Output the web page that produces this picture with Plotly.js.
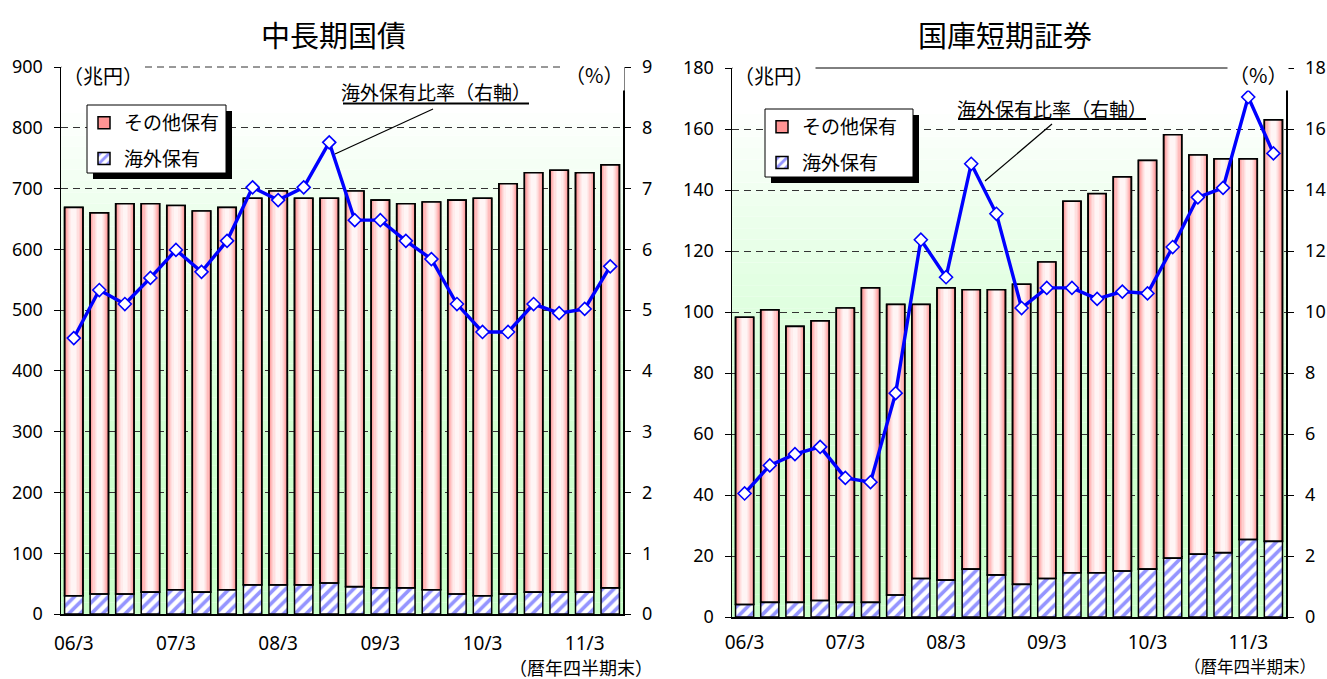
<!DOCTYPE html>
<html>
<head>
<meta charset="utf-8">
<script src="https://cdn.plot.ly/plotly-3.0.1.min.js"></script>
<style>html,body{margin:0;padding:0;background:#fff;}#chart{width:1327px;height:679px;}</style>
</head>
<body>
<div id="chart"></div>
<script>
// ---- data ----
const quarters = ["06/3","06/6","06/9","06/12","07/3","07/6","07/9","07/12","08/3","08/6","08/9","08/12",
                  "09/3","09/6","09/9","09/12","10/3","10/6","10/9","10/12","11/3","11/6"];
const yearTicks = ["06/3","07/3","08/3","09/3","10/3","11/3"];

// 中長期国債 (兆円)
const jgbOther   = [639,627,642,639,632,627,629,636,648,636,633,651,638,632,638,648,654,675,690,694,690,696];
const jgbForeign = [30,33,33,36,40,36,40,48,48,48,51,45,43,43,40,33,30,33,36,36,36,43];
const jgbRatio   = [4.54,5.33,5.10,5.53,5.99,5.63,6.14,7.02,6.81,7.02,7.76,6.48,6.48,6.14,5.84,5.10,4.64,4.64,5.10,4.95,5.02,5.72];

// 国庫短期証券 (兆円)
const tbOther   = [94.2,95.9,90.5,91.7,96.5,103.1,95.3,89.9,95.8,91.6,93.5,98.4,103.8,121.8,124.3,129.2,134.0,138.8,130.9,129.1,124.8,138.2];
const tbForeign = [4.1,4.8,4.8,5.4,4.8,4.8,7.2,12.6,12.1,15.7,13.8,10.7,12.6,14.5,14.5,15.1,15.7,19.3,20.6,21.1,25.4,24.8];
const tbRatio   = [4.05,4.97,5.34,5.58,4.56,4.42,7.34,12.37,11.14,14.86,13.22,10.13,10.79,10.79,10.43,10.67,10.61,12.13,13.76,14.07,17.05,15.20];

const nameOther = "その他保有";
const nameForeign = "海外保有";
const nameRatio = "海外保有比率";

// ---- helpers ----
const W = 1327, H = 679;
const px = x => x / W;
const py = y => 1 - y / H;
const CJK = "Noto Sans CJK JP, Noto Sans, sans-serif";
const NUM = "Noto Sans, Noto Sans CJK JP, sans-serif";
const BARW = 0.72;

function chartTraces(xa, ya, ya2, other, foreign, ratio, legendId) {
  const t = [];
  t.push({type:'bar', x:quarters, y:other, base:foreign, xaxis:xa, yaxis:ya, width:BARW,
          name:nameOther, legend:legendId, legendgroup:legendId+'o',
          marker:{color:'#ff9494', line:{color:'#000', width:1.5}}, hoverinfo:'skip'});
  const gw = [0.64,0.55,0.46,0.37,0.28,0.18];
  const gc = ['#ffa8a8','#ffbcbc','#ffcfcf','#ffdfdf','#ffebeb','#fff5f5'];
  gw.forEach((w,i) => t.push({type:'bar', x:quarters, y:other, base:foreign, xaxis:xa, yaxis:ya, width:w,
          showlegend:false, marker:{color:gc[i], line:{width:0}}, hoverinfo:'skip'}));
  t.push({type:'bar', x:quarters, y:foreign, xaxis:xa, yaxis:ya, width:BARW,
          name:nameForeign, legend:legendId, legendgroup:legendId+'f',
          marker:{color:'#ffffff', pattern:{shape:'/', fgcolor:'#9494ff', bgcolor:'#ffffff', size:8, solidity:0.45},
                  line:{color:'#000', width:1.5}}, hoverinfo:'skip'});
  t.push({type:'bar', x:quarters, y:other, base:foreign, xaxis:xa, yaxis:ya, width:BARW,
          showlegend:false, marker:{color:'rgba(0,0,0,0)', line:{color:'#000', width:1.6}}, hoverinfo:'skip'});
  t.push({type:'scatter', mode:'lines+markers', x:quarters, y:ratio, xaxis:xa, yaxis:ya2, name:nameRatio,
          showlegend:false, line:{color:'#0000ff', width:3.4},
          marker:{symbol:'diamond', size:10, color:'#ffffff', line:{color:'#0000ff', width:1.6}}});
  return t;
}

const data = [
  ...chartTraces('x','y','y2', jgbOther, jgbForeign, jgbRatio, 'legend'),
  ...chartTraces('x2','y3','y4', tbOther, tbForeign, tbRatio, 'legend2')
];

// background gradient bands
const shapes = [];
function bands(xr, yr) {
  const n = 48;
  for (let i = 0; i < n; i++) {
    const tm = (i + 0.5) / n;
    const f = Math.pow(Math.min(1, tm / 0.93), 1.7);
    const r = Math.round(200 + (255 - 200) * f);
    shapes.push({type:'rect', xref:xr+' domain', yref:yr+' domain', x0:0, x1:1, y0:i/n, y1:(i+1)/n,
                 fillcolor:`rgb(${r},255,${r})`, line:{width:0}, layer:'below'});
  }
}
bands('x','y'); bands('x2','y3');
// top borders
shapes.push({type:'line', xref:'x domain', yref:'y domain', x0:0, x1:1, y0:1, y1:1, line:{color:'#333', width:1, dash:'7px,5px'}, layer:'below'});
shapes.push({type:'line', xref:'x2 domain', yref:'y3 domain', x0:0, x1:1, y0:1, y1:1, line:{color:'#000', width:1}, layer:'above'});

// legend boxes (shadow + white box)
function legendBox(x0, y0, x1, y1) {
  shapes.push({type:'rect', xref:'paper', yref:'paper', x0:px(x0+6), x1:px(x1+6), y0:py(y1+6), y1:py(y0+6),
               fillcolor:'#000', line:{width:0}, layer:'above'});
  shapes.push({type:'rect', xref:'paper', yref:'paper', x0:px(x0), x1:px(x1), y0:py(y1), y1:py(y0),
               fillcolor:'#fff', line:{color:'#000', width:1}, layer:'above'});
}
legendBox(87, 105, 226, 173);
legendBox(765, 109, 913, 177);

// label underlines and pointer lines
function lineP(x0, y0, x1, y1, w) {
  shapes.push({type:'line', xref:'paper', yref:'paper', x0:px(x0), y0:py(y0), x1:px(x1), y1:py(y1),
               line:{color:'#000', width:w}, layer:'above'});
}
lineP(343, 103.5, 529, 103.5, 1.8);
lineP(433, 109, 335, 154, 1.2);
lineP(958, 119, 1146, 119, 1.8);
lineP(1052, 124, 985, 181, 1.2);

function ann(text, x, y, size, extra) {
  return Object.assign({text, xref:'paper', yref:'paper', x:px(x), y:py(y), xanchor:'center', yanchor:'middle',
          showarrow:false, font:{family:CJK, size, color:'#000'}}, extra || {});
}
const annotations = [
  ann('中長期国債', 333, 34, 29),
  ann('国庫短期証券', 1005, 34, 29),
  ann('（兆円）', 103, 75, 20, {bgcolor:'#fff'}),
  ann('（%）', 594, 74, 20, {bgcolor:'#fff'}),
  ann('（兆円）', 774, 75, 20, {bgcolor:'#fff'}),
  ann('（%）', 1258, 74, 20, {bgcolor:'#fff'}),
  ann('海外保有比率（右軸）', 436, 92, 19),
  ann('海外保有比率（右軸）', 1052, 108, 19),
  ann('（暦年四半期末）', 581, 667, 18),
  ann('（暦年四半期末）', 1250, 679, 16.5, {yanchor:'bottom', borderpad:0})
];

const tickFont = {family:NUM, size:18, color:'#000'};
const xCommon = {type:'category', range:[-0.5, 21.5], tickmode:'array', tickvals:yearTicks, ticktext:yearTicks,
                 showline:true, linecolor:'#000', linewidth:1.5, ticks:'', showgrid:false, zeroline:false,
                 tickfont:{family:NUM, size:19, color:'#000'}, fixedrange:true};
const yLeft = {showline:true, linecolor:'#000', linewidth:1.5, ticks:'outside', ticklen:6, tickcolor:'#000',
               showgrid:true, gridcolor:'#333', griddash:'7px,5px', gridwidth:1, zeroline:false,
               tickfont:tickFont, ticklabelstandoff:7, fixedrange:true};
const yRight = {showline:true, linecolor:'#000', linewidth:1.5, ticks:'outside', ticklen:6, tickcolor:'#000',
                showgrid:false, zeroline:false, side:'right', tickfont:tickFont, ticklabelstandoff:8, fixedrange:true};

const layout = {
  width: W, height: H,
  margin: {l:0, r:0, t:0, b:0},
  paper_bgcolor:'#fff', plot_bgcolor:'rgba(0,0,0,0)',
  barmode:'overlay', bargap:0,
  showlegend:true,
  font:{family:CJK, color:'#000'},
  xaxis: Object.assign({}, xCommon, {domain:[px(61), px(623)], anchor:'y', ticklabelstandoff:12}),
  yaxis: Object.assign({}, yLeft, {domain:[py(614), py(67)], anchor:'x', range:[0,900], dtick:100, tick0:0}),
  yaxis2: Object.assign({}, yRight, {overlaying:'y', anchor:'x', range:[0,9], dtick:1, tick0:0}),
  xaxis2: Object.assign({}, xCommon, {domain:[px(732), px(1286)], anchor:'y3', ticklabelstandoff:8}),
  yaxis3: Object.assign({}, yLeft, {domain:[py(617), py(68)], anchor:'x2', range:[0,180], dtick:20, tick0:0, ticklabelstandoff:7}),
  yaxis4: Object.assign({}, yRight, {overlaying:'y3', anchor:'x2', range:[0,18], dtick:2, tick0:0}),
  legend: {x:px(84), y:py(104), xanchor:'left', yanchor:'top', bgcolor:'rgba(0,0,0,0)', borderwidth:0,
           font:{family:CJK, size:19, color:'#000'}, traceorder:'grouped', tracegroupgap:8, itemclick:false, itemdoubleclick:false},
  legend2: {x:px(762), y:py(108), xanchor:'left', yanchor:'top', bgcolor:'rgba(0,0,0,0)', borderwidth:0,
           font:{family:CJK, size:19, color:'#000'}, traceorder:'grouped', tracegroupgap:8, itemclick:false, itemdoubleclick:false},
  shapes, annotations
};

Plotly.newPlot('chart', data, layout, {displayModeBar:false, staticPlot:true});
</script>
</body>
</html>
